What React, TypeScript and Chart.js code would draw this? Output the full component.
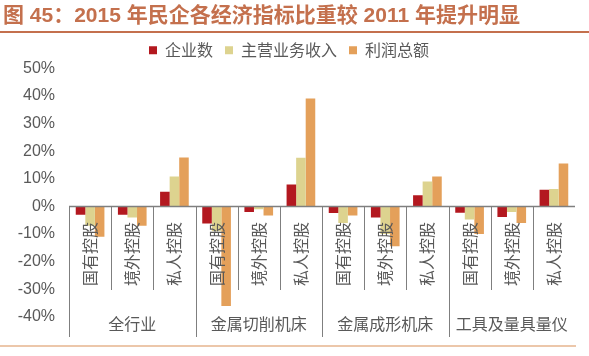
import React, { useEffect, useRef } from "react";
import { Chart, registerables } from "chart.js";

Chart.register(...registerables);

const categories = [
  "国有控股", "境外控股", "私人控股",
  "国有控股", "境外控股", "私人控股",
  "国有控股", "境外控股", "私人控股",
  "国有控股", "境外控股", "私人控股",
];
const groups = ["全行业", "金属切削机床", "金属成形机床", "工具及量具量仪"];
const seriesNames = ["企业数", "主营业务收入", "利润总额"];
const enterpriseCount = [-3, -3, 5.3, -6.2, -2, 7.9, -2.4, -4, 4, -2.3, -3.8, 6];
const revenue = [-7, -4, 10.8, -9, -1, 17.6, -6, -10, 9, -4.7, -2, 6.3];
const profit = [-11, -7, 17.7, -36, -3.3, 39, -3.3, -14.4, 10.8, -10, -6, 15.5];
const yMin = -40;
const yMax = 50;
const yStep = 10;
const titleText = "图 45：2015 年民企各经济指标比重较 2011 年提升明显";

const COLORS = ["#b3181f", "#ddd38f", "#e4a05a"];
const TITLE_COLOR = "#c4704d";
const TEXT_COLOR = "#595959";
const CJK = '"Noto Sans CJK SC", "Liberation Sans", sans-serif';

export default function App() {
  const ref = useRef<HTMLCanvasElement | null>(null);

  useEffect(() => {
    document.body.style.margin = "0";
    const decor = {
      id: "decor",
      afterDatasetsDraw(chart: any) {
        const ctx = chart.ctx as CanvasRenderingContext2D;
        const area = chart.chartArea;
        const x = chart.scales.x;
        const y = chart.scales.y;
        const y0 = y.getPixelForValue(0);
        const n = categories.length;
        const step = (area.right - area.left) / n;
        ctx.save();
        // title underline
        ctx.strokeStyle = TITLE_COLOR;
        ctx.lineWidth = 2;
        ctx.beginPath();
        ctx.moveTo(0, 32);
        ctx.lineTo(589, 32);
        ctx.stroke();
        // zero line
        ctx.strokeStyle = "#7f7f7f";
        ctx.lineWidth = 1.5;
        ctx.beginPath();
        ctx.moveTo(area.left, y0);
        ctx.lineTo(area.right, y0);
        ctx.stroke();
        // separators
        ctx.lineWidth = 1;
        for (let i = 0; i < n; i++) {
          const bx = Math.round(area.left + i * step) + 0.5;
          const isGroup = i % 3 === 0;
          ctx.beginPath();
          ctx.moveTo(bx, y0);
          ctx.lineTo(bx, isGroup ? 337 : 290);
          ctx.stroke();
        }
        // category labels (rotated)
        ctx.fillStyle = TEXT_COLOR;
        ctx.font = `16px ${CJK}`;
        ctx.textAlign = "right";
        ctx.textBaseline = "middle";
        for (let i = 0; i < n; i++) {
          const cx = x.getPixelForValue(i);
          ctx.save();
          ctx.translate(cx, 222);
          ctx.rotate(-Math.PI / 2);
          ctx.fillText(categories[i], 0, 0);
          ctx.restore();
        }
        // group labels
        ctx.textAlign = "center";
        ctx.font = `16px ${CJK}`;
        for (let g = 0; g < groups.length; g++) {
          const gx = area.left + (g * 3 + 1.5) * step;
          ctx.fillText(groups[g], gx, 324);
        }
        // bottom line
        ctx.strokeStyle = "#e6b58e";
        ctx.lineWidth = 1.5;
        ctx.beginPath();
        ctx.moveTo(0, 346);
        ctx.lineTo(576, 346);
        ctx.stroke();
        ctx.restore();
      },
    };

    const chart = new Chart(ref.current as HTMLCanvasElement, {
      type: "bar",
      data: {
        labels: categories,
        datasets: [
          { label: seriesNames[0], data: enterpriseCount, backgroundColor: COLORS[0] },
          { label: seriesNames[1], data: revenue, backgroundColor: COLORS[1] },
          { label: seriesNames[2], data: profit, backgroundColor: COLORS[2] },
        ],
      },
      options: {
        responsive: false,
        animation: false,
        layout: { padding: { left: 3, right: 14, top: 0, bottom: 39 } },
        datasets: { bar: { categoryPercentage: 0.68, barPercentage: 1.0 } },
        plugins: {
          title: {
            display: true,
            text: titleText,
            align: "start",
            color: TITLE_COLOR,
            font: { size: 21, weight: "bold", family: '"Liberation Sans", "Noto Sans CJK SC", sans-serif', lineHeight: 1.15 },
            padding: { top: 4, bottom: 2 },
          },
          legend: {
            display: true,
            position: "top",
            align: "center",
            labels: {
              boxWidth: 8,
              boxHeight: 8,
              padding: 12,
              color: TEXT_COLOR,
              font: { size: 16, family: CJK },
            },
          },
          tooltip: { enabled: false },
        },
        scales: {
          x: {
            display: false,
          },
          y: {
            min: yMin,
            max: yMax,
            grid: { display: false, drawTicks: false },
            border: { display: false },
            afterFit: (scale: any) => {
              scale.width = 66;
            },
            ticks: {
              stepSize: yStep,
              padding: 14,
              color: TEXT_COLOR,
              font: { size: 16, family: '"Liberation Sans", sans-serif' },
              callback: (v: any) => `${v}%`,
            },
          },
        },
      },
      plugins: [decor],
    });
    return () => chart.destroy();
  }, []);

  return (
    <div style={{ width: 589, height: 356 }}>
      <canvas ref={ref} width={589} height={356} />
    </div>
  );
}
